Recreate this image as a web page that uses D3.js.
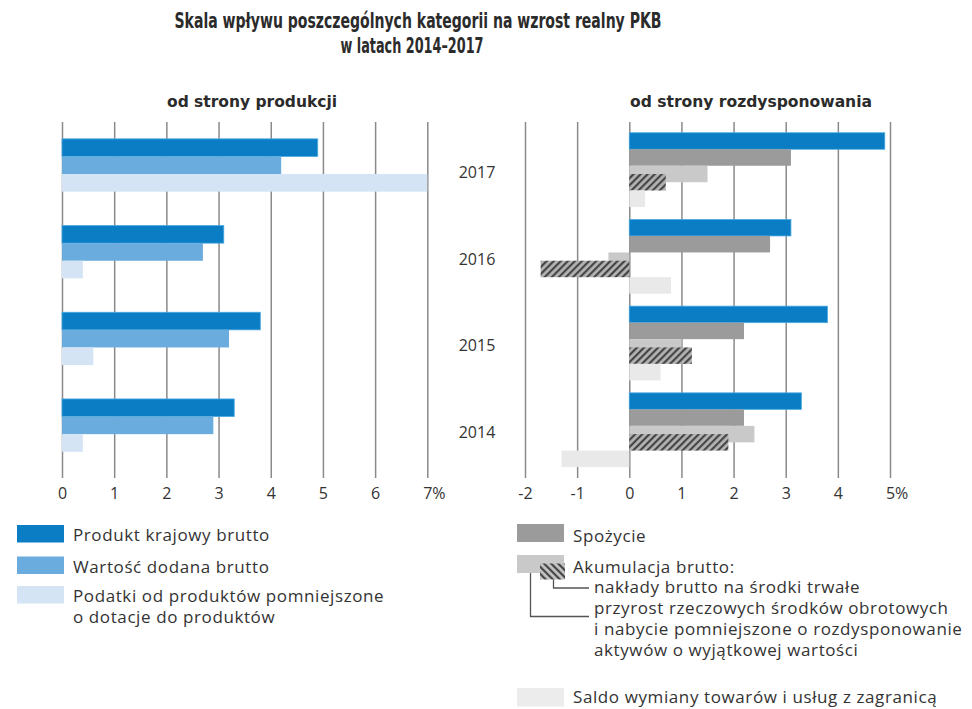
<!DOCTYPE html>
<html lang="pl">
<head>
<meta charset="utf-8">
<title>Skala wpływu kategorii na wzrost PKB</title>
<script src="https://cdnjs.cloudflare.com/ajax/libs/d3/7.8.5/d3.min.js"></script>
<style>
  body { margin: 0; background: #fff; }
  svg text { font-family: "Open Sans", "Noto Sans", sans-serif; fill: #333; }
  .title { font-family: "DejaVu Sans Condensed", "Liberation Sans Narrow", "Roboto", sans-serif; font-stretch: condensed; font-weight: 700; font-size: 21px; fill: #2b2b2b; }
  .sub { font-family: "DejaVu Sans Condensed", "Roboto", sans-serif; font-stretch: condensed; font-weight: 700; font-size: 16px; fill: #2b2b2b; }
  .axis text { font-size: 16px; }
  .axis line { stroke: #8a8a8a; stroke-width: 1.5; }
  .leg { font-size: 17px; letter-spacing: 0.6px; }
</style>
</head>
<body>
<svg id="chart" width="972" height="709"></svg>
<script>
// data (percentage points)
var years = ["2017", "2016", "2015", "2014"];

// od strony produkcji
var pkb      = [4.9, 3.1, 3.8, 3.3];
var wdb      = [4.2, 2.7, 3.2, 2.9];
var podatki  = [7.0, 0.4, 0.6, 0.4];

// od strony rozdysponowania
var spozycie   = [3.1, 2.7, 2.2, 2.2];
var akumulacja = [1.5, -0.4, 1.0, 2.4];
var naklady    = [0.7, -1.7, 1.2, 1.9];
var saldo      = [0.3, 0.8, 0.6, -1.3];

var leftTicks  = [0, 1, 2, 3, 4, 5, 6, 7];
var rightTicks = [-2, -1, 0, 1, 2, 3, 4, 5];

var svg = d3.select("#chart");
var defs = svg.append("defs");

function hatch(id, angle, bg) {
  var p = defs.append("pattern").attr("id", id)
    .attr("patternUnits", "userSpaceOnUse")
    .attr("width", 5).attr("height", 5)
    .attr("patternTransform", "rotate(" + angle + ")");
  p.append("rect").attr("width", 5).attr("height", 5).attr("fill", bg);
  p.append("line").attr("x1", 1.2).attr("y1", 0).attr("x2", 1.2).attr("y2", 5)
    .attr("stroke", "#3a3a3a").attr("stroke-width", 2);
}
hatch("hatchBar", 45, "#b4b4b4");
hatch("hatchLeg", -45, "#c4c4c4");

var gridTop = 122, gridBottom = 478;

// titles
svg.append("text").attr("class", "title").attr("x", 418).attr("y", 28)
  .attr("text-anchor", "middle").attr("textLength", 487).attr("lengthAdjust", "spacingAndGlyphs")
  .text("Skala wpływu poszczególnych kategorii na wzrost realny PKB");
svg.append("text").attr("class", "title").attr("x", 412).attr("y", 53)
  .attr("text-anchor", "middle").attr("textLength", 143).attr("lengthAdjust", "spacingAndGlyphs")
  .text("w latach 2014–2017");

svg.append("text").attr("class", "sub").attr("x", 252).attr("y", 107)
  .attr("text-anchor", "middle").attr("textLength", 170).attr("lengthAdjust", "spacingAndGlyphs")
  .text("od strony produkcji");
svg.append("text").attr("class", "sub").attr("x", 751).attr("y", 107)
  .attr("text-anchor", "middle").attr("textLength", 242).attr("lengthAdjust", "spacingAndGlyphs")
  .text("od strony rozdysponowania");

// scales
var y = d3.scaleBand().domain(years).range([126.5, 473.3]);
var xL = d3.scaleLinear().domain([0, 7]).range([62, 427.3]);
var xR = d3.scaleLinear().domain([-2, 5]).range([525, 890]);

function drawAxis(x, ticks) {
  var g = svg.append("g").attr("class", "axis")
    .attr("transform", "translate(0," + gridBottom + ")")
    .call(d3.axisBottom(x).tickValues(ticks).tickSize(-(gridBottom - gridTop))
      .tickPadding(10).tickFormat(function(d) { return String(d); }));
  g.select(".domain").remove();
  g.selectAll(".tick text").attr("fill", "#333");
  g.selectAll(".tick").filter(function(d, i) { return i === ticks.length - 1; })
    .select("text").each(function(d) {
      var w = this.getComputedTextLength();
      d3.select(this).attr("text-anchor", "start").attr("x", -w / 2).text(d + "%");
    });
}
drawAxis(xL, leftTicks);
drawAxis(xR, rightTicks);

// year labels
svg.append("g").selectAll("text").data(years).join("text")
  .attr("x", 477).attr("y", function(d) { return y(d) + y.bandwidth() / 2 + 8; })
  .attr("text-anchor", "middle").attr("font-size", 16).text(function(d) { return d; });

function bars(x, values, fill, top, h, stroke) {
  svg.append("g").selectAll("rect").data(values).join("rect")
    .attr("x", function(d) { return x(Math.min(0, d)); })
    .attr("width", function(d) { return Math.abs(x(d) - x(0)); })
    .attr("y", function(d, i) { return y(years[i]) + y.bandwidth() / 2 + top; })
    .attr("height", h)
    .attr("fill", fill)
    .attr("stroke", stroke || "none")
    .attr("stroke-width", stroke ? 0.8 : 0);
}

// left panel
var lh = 17.6, lTop = -31;
bars(xL, pkb, "#0a7dc4", lTop, lh, "#4aa8e2");
bars(xL, wdb, "#6aacde", lTop + lh, lh);
bars(xL, podatki, "#d4e4f5", lTop + 2 * lh, lh);

// right panel
var rh = 16.5, rTop = -37.1;
bars(xR, pkb, "#0a7dc4", rTop, rh, "#4aa8e2");
bars(xR, spozycie, "#9b9b9b", rTop + rh, rh);
bars(xR, akumulacja, "#c9c9c9", rTop + 2 * rh, rh);
bars(xR, naklady, "url(#hatchBar)", rTop + 2.5 * rh, rh);
bars(xR, saldo, "#e9e9e9", rTop + 3.5 * rh, rh);

// legend, left
var legL = [
  { c: "#0a7dc4", t: ["Produkt krajowy brutto"], y: 525 },
  { c: "#6aacde", t: ["Wartość dodana brutto"], y: 556.5 },
  { c: "#d4e4f5", t: ["Podatki od produktów pomniejszone", "o dotacje do produktów"], y: 586 }
];
legL.forEach(function(l) {
  svg.append("rect").attr("x", 17).attr("y", l.y).attr("width", 47).attr("height", 17.5).attr("fill", l.c);
  l.t.forEach(function(s, i) {
    svg.append("text").attr("class", "leg").attr("x", 73).attr("y", l.y + 16 + i * 20.5).text(s);
  });
});

// legend, right
function legText(x, yy, s) {
  svg.append("text").attr("class", "leg").attr("x", x).attr("y", yy).text(s);
}
svg.append("rect").attr("x", 517).attr("y", 524).attr("width", 47).attr("height", 18).attr("fill", "#9b9b9b");
legText(573, 541.5, "Spożycie");

svg.append("rect").attr("x", 517).attr("y", 555).attr("width", 47).attr("height", 18).attr("fill", "#c9c9c9");
svg.append("rect").attr("x", 540).attr("y", 563.5).attr("width", 25).attr("height", 16).attr("fill", "url(#hatchLeg)");
legText(573, 573, "Akumulacja brutto:");

svg.append("path").attr("d", "M553.5,579.5V588H589").attr("fill", "none").attr("stroke", "#555").attr("stroke-width", 1.3);
svg.append("path").attr("d", "M530.5,573V616.5H589").attr("fill", "none").attr("stroke", "#555").attr("stroke-width", 1.3);
legText(594, 593, "nakłady brutto na środki trwałe");
legText(594, 614, "przyrost rzeczowych środków obrotowych");
legText(594, 635, "i nabycie pomniejszone o rozdysponowanie");
legText(594, 655.5, "aktywów o wyjątkowej wartości");

svg.append("rect").attr("x", 517).attr("y", 688).attr("width", 47).attr("height", 18.5).attr("fill", "#ececec");
legText(573, 703, "Saldo wymiany towarów i usług z zagranicą");
</script>
</body>
</html>
